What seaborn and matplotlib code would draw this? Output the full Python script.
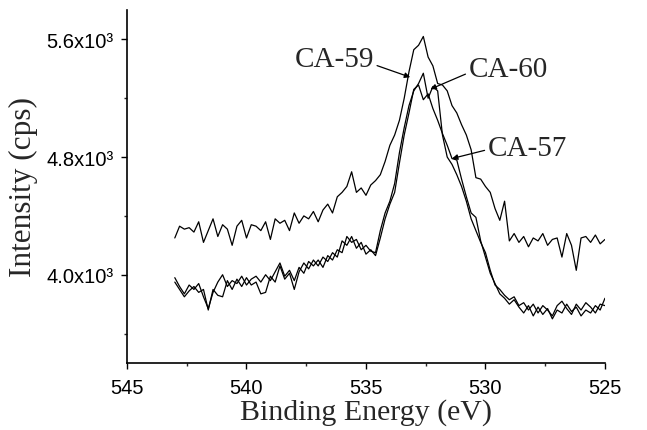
import numpy as np
import pandas as pd
import matplotlib
matplotlib.use("Agg")
import matplotlib.pyplot as plt
import seaborn as sns
from matplotlib.ticker import MultipleLocator, FixedLocator

# ---- data (binding energy grid, eV, 543 -> 525 in 0.2 eV steps) ----
energy = np.round(np.arange(543.0, 524.99, -0.2), 1)

ca59 = [4250, 4330, 4310, 4320, 4290, 4360, 4220, 4300, 4380, 4260,
        4340, 4310, 4200, 4330, 4370, 4250, 4340, 4330, 4300, 4360,
        4240, 4380, 4350, 4370, 4300, 4420, 4350, 4400, 4380, 4430,
        4360, 4440, 4480, 4420, 4530, 4560, 4600, 4700, 4560, 4590,
        4540, 4610, 4640, 4680, 4770, 4880, 4950, 5050, 5200, 5380,
        5530, 5560, 5620, 5480, 5420, 5300, 5290, 5250, 5150, 5100,
        5020, 4950, 4850, 4660, 4650, 4600, 4560, 4450, 4370, 4500,
        4230, 4280, 4220, 4260, 4190, 4250, 4230, 4280, 4200, 4240,
        4250, 4120, 4280, 4200, 4030, 4250, 4260, 4220, 4270, 4210,
        4240]

ca60 = [3980, 3920, 3870, 3930, 3900, 3940, 3850, 3770, 3880, 3950,
        4000, 3920, 3960, 3940, 3990, 3930, 3970, 3990, 3950, 4000,
        3960, 4020, 4080, 3990, 4030, 3960, 4050, 4010, 4090, 4060,
        4100, 4050, 4130, 4100, 4170, 4150, 4260, 4220, 4240, 4170,
        4200, 4160, 4150, 4300, 4420, 4500, 4620, 4830, 5000, 5150,
        5250, 5300, 5370, 5200, 5280, 5250, 4950, 4800, 4750, 4680,
        4600, 4500, 4380, 4300, 4220, 4150, 4030, 3930, 3900, 3860,
        3830, 3850, 3790, 3810, 3760, 3800, 3740, 3790, 3760, 3720,
        3790, 3820, 3770, 3730, 3800, 3760, 3810, 3780, 3740, 3800,
        3790]

ca57 = [3950, 3900, 3850, 3890, 3920, 3880, 3900, 3760, 3900, 3860,
        3850, 3960, 3900, 3970, 3920, 3980, 3930, 3950, 3870, 3880,
        3990, 3950, 4060, 3970, 4010, 3900, 4020, 4080, 4040, 4100,
        4060, 4120, 4090, 4150, 4120, 4230, 4200, 4260, 4180, 4220,
        4140, 4170, 4130, 4250, 4380, 4480, 4560, 4760, 4950, 5100,
        5260, 5290, 5190, 5230, 5130, 5050, 4960, 4880, 4790, 4780,
        4650, 4530, 4420, 4390, 4230, 4120, 4010, 3940, 3870, 3840,
        3800, 3830, 3780, 3740, 3790, 3720, 3780, 3730, 3770, 3700,
        3760, 3740, 3800, 3750, 3780, 3720, 3760, 3740, 3790, 3760,
        3840]

samples = ["CA-59", "CA-60", "CA-57"]
ytick_values = [4000, 4800, 5600]
ytick_labels = ["4.0x10\u00b3", "4.8x10\u00b3", "5.6x10\u00b3"]
xtick_values = [545, 540, 535, 530, 525]

df = pd.concat([
    pd.DataFrame({"energy": energy, "intensity": vals, "sample": name})
    for name, vals in zip(samples, [ca59, ca60, ca57])
], ignore_index=True)

# ---- plot ----
sns.set_style("ticks")
plt.rcParams["font.family"] = ["Liberation Sans", "DejaVu Sans"]

fig = plt.figure(figsize=(6.47, 4.31), dpi=100)
ax = fig.add_axes([0.1963, 0.1555, 0.7387, 0.819])

sns.lineplot(data=df, x="energy", y="intensity", hue="sample", units="sample",
             estimator=None, sort=False, palette=["black"] * 3, linewidth=0.9,
             legend=False, ax=ax)

ax.set_xlim(545, 525)
ax.set_ylim(3400, 5800)
ax.set_xticks(xtick_values)
ax.set_xticklabels([str(v) for v in xtick_values])
ax.xaxis.set_minor_locator(MultipleLocator(2.5))
ax.set_yticks(ytick_values)
ax.set_yticklabels(ytick_labels)
ax.yaxis.set_minor_locator(FixedLocator([3600, 4400, 5200]))

for s in ["top", "right"]:
    ax.spines[s].set_visible(False)
for s in ["left", "bottom"]:
    ax.spines[s].set_linewidth(1.2)
    ax.spines[s].set_color("black")

ax.tick_params(axis="both", which="major", direction="out", length=4.5,
               width=1.0, labelsize=14.5, colors="black")
ax.tick_params(axis="x", which="major", pad=6)
ax.tick_params(axis="y", which="major", pad=5)
ax.tick_params(axis="both", which="minor", direction="out", length=2.5,
               width=1.0)

serif = ["Liberation Serif", "DejaVu Serif"]
ax.set_xlabel("Binding Energy (eV)", fontsize=21.5, family=serif, labelpad=1)
ax.set_ylabel("Intensity (cps)", fontsize=22.5, family=serif, labelpad=6)

arrow = dict(arrowstyle="-|>", color="black", lw=0.9,
             mutation_scale=8, shrinkA=0, shrinkB=0)
ax.annotate("CA-59", xy=(533.15, 5343), xytext=(538.0, 5465),
            fontsize=21, family=serif, va="center", ha="left",
            arrowprops=dict(arrow, relpos=(1.0, 0.3)))
ax.annotate("CA-60", xy=(532.3, 5262), xytext=(530.7, 5400),
            fontsize=21, family=serif, va="center", ha="left",
            arrowprops=dict(arrow, relpos=(0.0, 0.35)))
ax.annotate("CA-57", xy=(531.4, 4790), xytext=(529.9, 4860),
            fontsize=21, family=serif, va="center", ha="left",
            arrowprops=dict(arrow, relpos=(0.0, 0.45)))

fig.savefig("out.png", dpi=100)
